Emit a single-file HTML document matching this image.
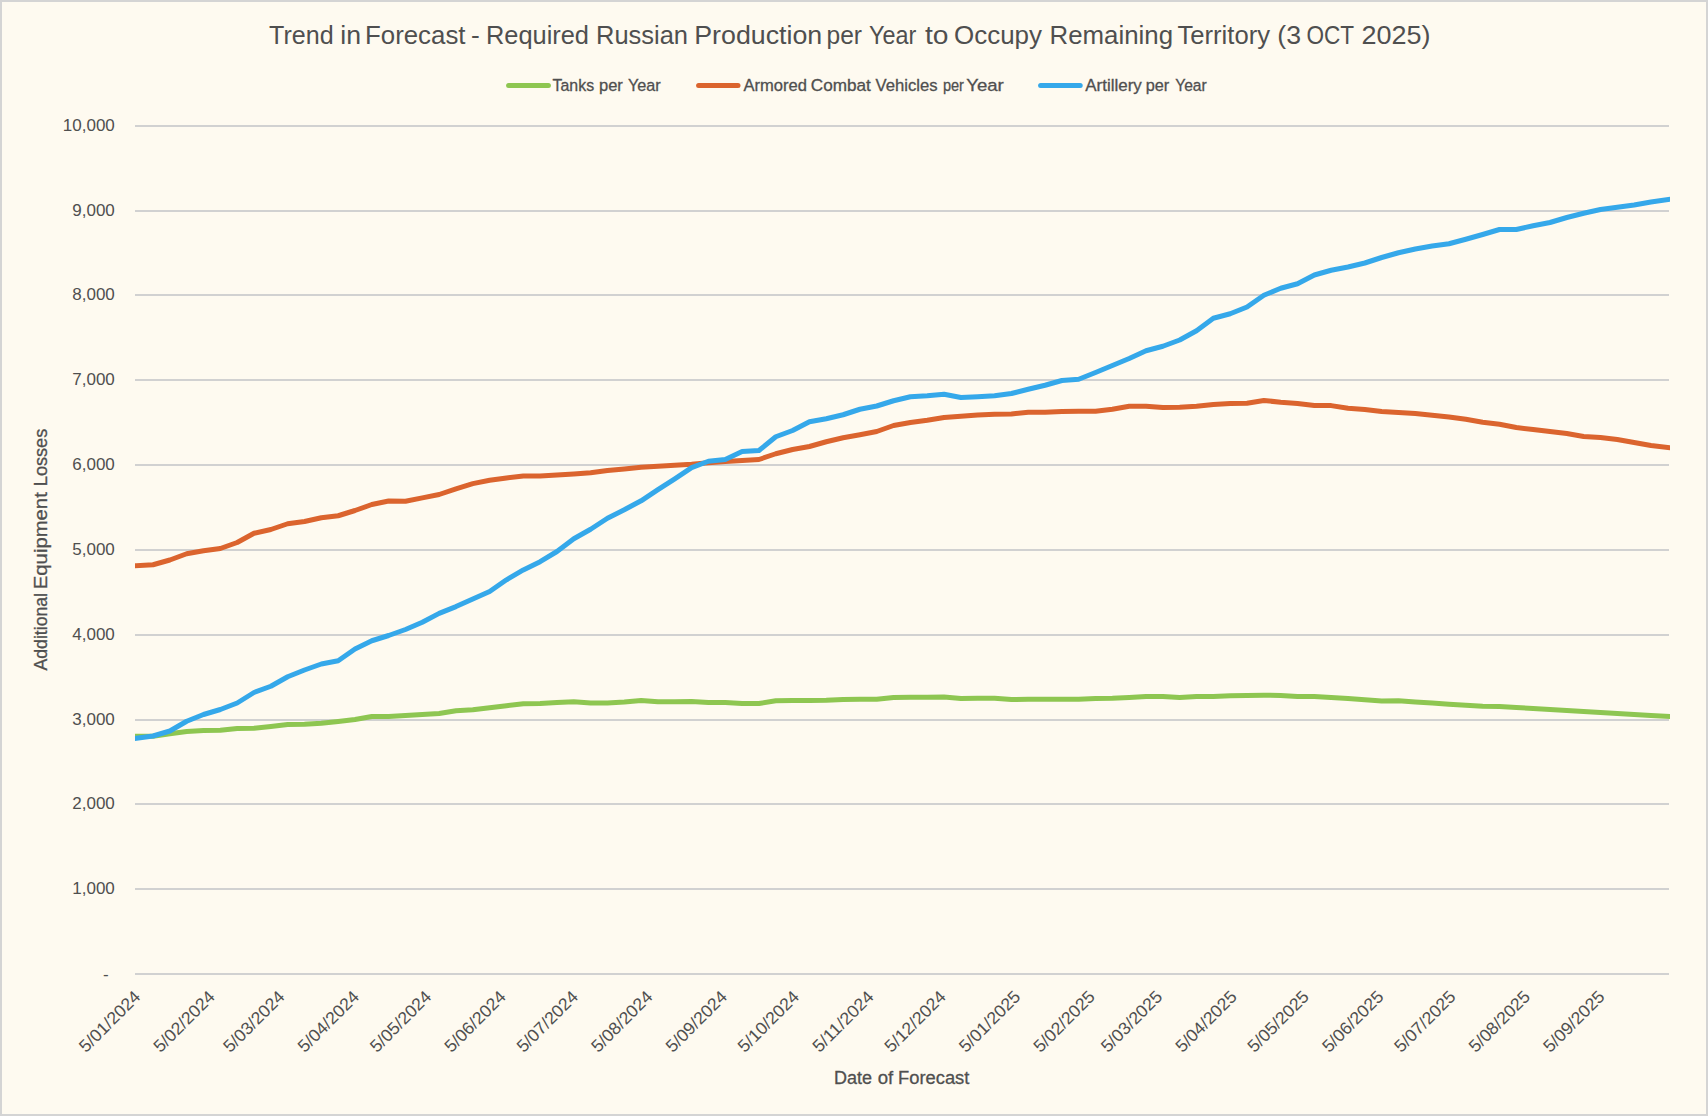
<!DOCTYPE html>
<html lang="en">
<head>
<meta charset="utf-8">
<title>Trend in Forecast - Required Russian Production per Year to Occupy Remaining Territory</title>
<style>
html,body{margin:0;padding:0;background:#fefaf0;}
body{width:1708px;height:1116px;overflow:hidden;position:relative;font-family:"Liberation Sans",sans-serif;}
#chart{position:absolute;left:0;top:0;width:1708px;height:1116px;box-sizing:border-box;border:2px solid #d4d4d4;background:#fefaf0;}
svg{position:absolute;left:0;top:0;display:block;}
text{font-family:"Liberation Sans",sans-serif;fill:#4f4f4f;}
.tick{font-size:17px;}
.xtick{font-size:17.3px;}
.title{font-size:26.4px;}
.leg{font-size:16.3px;stroke:#4f4f4f;stroke-width:0.3px;}
.axt{font-size:18.7px;stroke:#4f4f4f;stroke-width:0.3px;}
.ser{fill:none;stroke-width:5;stroke-linejoin:round;stroke-linecap:square;}
</style>
</head>
<body>
<div id="chart"></div>
<svg width="1708" height="1116" viewBox="0 0 1708 1116">
<defs><clipPath id="plot"><rect x="135" y="100" width="1535" height="900"/></clipPath></defs>
<g id="grid">
<rect x="135" y="973.00" width="1534" height="2" fill="#d1d1d1"/>
<rect x="135" y="888.00" width="1534" height="2" fill="#d1d1d1"/>
<rect x="135" y="803.00" width="1534" height="2" fill="#d1d1d1"/>
<rect x="135" y="719.00" width="1534" height="2" fill="#d1d1d1"/>
<rect x="135" y="634.00" width="1534" height="2" fill="#d1d1d1"/>
<rect x="135" y="549.00" width="1534" height="2" fill="#d1d1d1"/>
<rect x="135" y="464.00" width="1534" height="2" fill="#d1d1d1"/>
<rect x="135" y="379.00" width="1534" height="2" fill="#d1d1d1"/>
<rect x="135" y="294.00" width="1534" height="2" fill="#d1d1d1"/>
<rect x="135" y="210.00" width="1534" height="2" fill="#d1d1d1"/>
<rect x="135" y="125.00" width="1534" height="2" fill="#d1d1d1"/>
</g>
<g id="ylabels">
<text x="108.7" y="980.00" text-anchor="end" class="tick">-</text>
<text x="114.8" y="894.10" text-anchor="end" class="tick">1,000</text>
<text x="114.8" y="809.10" text-anchor="end" class="tick">2,000</text>
<text x="114.8" y="725.10" text-anchor="end" class="tick">3,000</text>
<text x="114.8" y="640.10" text-anchor="end" class="tick">4,000</text>
<text x="114.8" y="555.10" text-anchor="end" class="tick">5,000</text>
<text x="114.8" y="470.10" text-anchor="end" class="tick">6,000</text>
<text x="114.8" y="385.10" text-anchor="end" class="tick">7,000</text>
<text x="114.8" y="300.10" text-anchor="end" class="tick">8,000</text>
<text x="114.8" y="216.10" text-anchor="end" class="tick">9,000</text>
<text x="114.8" y="131.10" text-anchor="end" class="tick">10,000</text>
</g>
<g id="xlabels">
<text transform="translate(141.50,997.9) rotate(-45)" text-anchor="end" class="xtick" textLength="78.4" lengthAdjust="spacingAndGlyphs">5/01/2024</text>
<text transform="translate(216.04,997.9) rotate(-45)" text-anchor="end" class="xtick" textLength="78.4" lengthAdjust="spacingAndGlyphs">5/02/2024</text>
<text transform="translate(285.76,997.9) rotate(-45)" text-anchor="end" class="xtick" textLength="78.4" lengthAdjust="spacingAndGlyphs">5/03/2024</text>
<text transform="translate(360.30,997.9) rotate(-45)" text-anchor="end" class="xtick" textLength="78.4" lengthAdjust="spacingAndGlyphs">5/04/2024</text>
<text transform="translate(432.43,997.9) rotate(-45)" text-anchor="end" class="xtick" textLength="78.4" lengthAdjust="spacingAndGlyphs">5/05/2024</text>
<text transform="translate(506.97,997.9) rotate(-45)" text-anchor="end" class="xtick" textLength="78.4" lengthAdjust="spacingAndGlyphs">5/06/2024</text>
<text transform="translate(579.10,997.9) rotate(-45)" text-anchor="end" class="xtick" textLength="78.4" lengthAdjust="spacingAndGlyphs">5/07/2024</text>
<text transform="translate(653.63,997.9) rotate(-45)" text-anchor="end" class="xtick" textLength="78.4" lengthAdjust="spacingAndGlyphs">5/08/2024</text>
<text transform="translate(728.17,997.9) rotate(-45)" text-anchor="end" class="xtick" textLength="78.4" lengthAdjust="spacingAndGlyphs">5/09/2024</text>
<text transform="translate(800.30,997.9) rotate(-45)" text-anchor="end" class="xtick" textLength="78.4" lengthAdjust="spacingAndGlyphs">5/10/2024</text>
<text transform="translate(874.84,997.9) rotate(-45)" text-anchor="end" class="xtick" textLength="78.4" lengthAdjust="spacingAndGlyphs">5/11/2024</text>
<text transform="translate(946.97,997.9) rotate(-45)" text-anchor="end" class="xtick" textLength="78.4" lengthAdjust="spacingAndGlyphs">5/12/2024</text>
<text transform="translate(1021.51,997.9) rotate(-45)" text-anchor="end" class="xtick" textLength="78.4" lengthAdjust="spacingAndGlyphs">5/01/2025</text>
<text transform="translate(1096.04,997.9) rotate(-45)" text-anchor="end" class="xtick" textLength="78.4" lengthAdjust="spacingAndGlyphs">5/02/2025</text>
<text transform="translate(1163.36,997.9) rotate(-45)" text-anchor="end" class="xtick" textLength="78.4" lengthAdjust="spacingAndGlyphs">5/03/2025</text>
<text transform="translate(1237.90,997.9) rotate(-45)" text-anchor="end" class="xtick" textLength="78.4" lengthAdjust="spacingAndGlyphs">5/04/2025</text>
<text transform="translate(1310.03,997.9) rotate(-45)" text-anchor="end" class="xtick" textLength="78.4" lengthAdjust="spacingAndGlyphs">5/05/2025</text>
<text transform="translate(1384.57,997.9) rotate(-45)" text-anchor="end" class="xtick" textLength="78.4" lengthAdjust="spacingAndGlyphs">5/06/2025</text>
<text transform="translate(1456.70,997.9) rotate(-45)" text-anchor="end" class="xtick" textLength="78.4" lengthAdjust="spacingAndGlyphs">5/07/2025</text>
<text transform="translate(1531.23,997.9) rotate(-45)" text-anchor="end" class="xtick" textLength="78.4" lengthAdjust="spacingAndGlyphs">5/08/2025</text>
<text transform="translate(1605.77,997.9) rotate(-45)" text-anchor="end" class="xtick" textLength="78.4" lengthAdjust="spacingAndGlyphs">5/09/2025</text>
</g>
<g clip-path="url(#plot)">
<polyline class="ser" stroke="#8ec651" points="136.20,736.25 153.03,736.25 169.86,733.75 186.69,731.50 203.52,730.50 220.35,730.25 237.18,728.50 254.01,728.25 270.85,726.50 287.68,724.50 304.51,724.25 321.34,723.25 338.17,721.50 355.00,719.50 371.83,716.50 388.66,716.50 405.49,715.50 422.32,714.50 439.15,713.50 455.98,710.75 472.81,709.75 489.64,707.75 506.48,705.75 523.31,703.75 540.14,703.60 556.97,702.60 573.80,701.75 590.63,703.00 607.46,703.00 624.29,702.00 641.12,700.50 657.95,701.75 674.78,701.75 691.61,701.50 708.44,702.50 725.27,702.50 742.11,703.50 758.94,703.50 775.77,700.75 792.60,700.50 809.43,700.50 826.26,700.25 843.09,699.50 859.92,699.25 876.75,699.25 893.58,697.50 910.41,697.25 927.24,697.25 944.07,697.10 960.90,698.40 977.73,698.25 994.57,698.25 1011.40,699.50 1028.23,699.25 1045.06,699.25 1061.89,699.25 1078.72,699.25 1095.55,698.50 1112.38,698.25 1129.21,697.50 1146.04,696.50 1162.87,696.50 1179.70,697.50 1196.53,696.50 1213.36,696.50 1230.20,695.75 1247.03,695.50 1263.86,695.25 1280.69,695.50 1297.52,696.60 1314.35,696.50 1331.18,697.60 1348.01,698.60 1364.84,699.75 1381.67,701.00 1398.50,700.75 1415.33,702.00 1432.16,703.00 1448.99,704.25 1465.83,705.25 1482.66,706.25 1499.49,706.50 1516.32,707.49 1533.15,708.48 1549.98,709.47 1566.81,710.46 1583.64,711.45 1600.47,712.44 1617.30,713.43 1634.13,714.42 1650.96,715.41 1667.79,716.40"/>
<polyline class="ser" stroke="#db642e" points="136.20,565.75 153.03,564.75 169.86,560.00 186.69,553.75 203.52,550.75 220.35,548.50 237.18,542.50 254.01,533.25 270.85,529.50 287.68,523.75 304.51,521.50 321.34,517.75 338.17,515.75 355.00,510.50 371.83,504.50 388.66,501.00 405.49,501.30 422.32,497.90 439.15,494.50 455.98,488.80 472.81,483.60 489.64,480.20 506.48,477.90 523.31,476.00 540.14,476.10 556.97,474.90 573.80,473.90 590.63,472.80 607.46,470.60 624.29,468.90 641.12,467.15 657.95,466.15 674.78,465.15 691.61,464.15 708.44,462.75 725.27,461.50 742.11,460.50 758.94,459.50 775.77,453.75 792.60,449.50 809.43,446.50 826.26,441.75 843.09,437.75 859.92,434.75 876.75,431.50 893.58,425.50 910.41,422.50 927.24,420.25 944.07,417.50 960.90,416.25 977.73,415.00 994.57,414.25 1011.40,414.00 1028.23,412.25 1045.06,412.25 1061.89,411.50 1078.72,411.25 1095.55,411.25 1112.38,409.25 1129.21,406.25 1146.04,406.25 1162.87,407.50 1179.70,407.25 1196.53,406.25 1213.36,404.50 1230.20,403.50 1247.03,403.25 1263.86,400.50 1280.69,402.25 1297.52,403.40 1314.35,405.50 1331.18,405.60 1348.01,408.25 1364.84,409.40 1381.67,411.50 1398.50,412.50 1415.33,413.50 1432.16,415.25 1448.99,417.00 1465.83,419.25 1482.66,422.25 1499.49,424.25 1516.32,427.50 1533.15,429.50 1549.98,431.50 1566.81,433.50 1583.64,436.50 1600.47,437.50 1617.30,439.50 1634.13,442.50 1650.96,445.50 1667.79,447.50"/>
<polyline class="ser" stroke="#35a8ea" points="136.20,738.25 153.03,736.00 169.86,731.00 186.69,721.25 203.52,714.50 220.35,709.50 237.18,703.00 254.01,692.50 270.85,686.25 287.68,676.75 304.51,670.00 321.34,664.00 338.17,660.75 355.00,649.00 371.83,640.75 388.66,635.50 405.49,629.50 422.32,622.25 439.15,613.40 455.98,606.60 472.81,598.90 489.64,591.50 506.48,579.80 523.31,569.90 540.14,561.70 556.97,551.50 573.80,538.75 590.63,529.25 607.46,518.25 624.29,509.80 641.12,500.80 657.95,489.55 674.78,478.80 691.61,467.55 708.44,461.25 725.27,459.50 742.11,451.50 758.94,450.50 775.77,436.75 792.60,430.50 809.43,421.75 826.26,418.75 843.09,414.75 859.92,409.25 876.75,406.00 893.58,400.75 910.41,396.75 927.24,395.75 944.07,394.25 960.90,397.50 977.73,396.75 994.57,395.75 1011.40,393.50 1028.23,389.25 1045.06,385.25 1061.89,380.50 1078.72,379.25 1095.55,372.50 1112.38,365.50 1129.21,358.50 1146.04,350.75 1162.87,346.25 1179.70,340.00 1196.53,330.75 1213.36,318.25 1230.20,313.75 1247.03,307.00 1263.86,295.25 1280.69,288.25 1297.52,283.75 1314.35,275.00 1331.18,270.25 1348.01,267.00 1364.84,263.00 1381.67,257.50 1398.50,252.75 1415.33,249.00 1432.16,246.00 1448.99,243.75 1465.83,239.25 1482.66,234.50 1499.49,229.50 1516.32,229.50 1533.15,225.75 1549.98,222.50 1566.81,217.50 1583.64,213.25 1600.47,209.50 1617.30,207.25 1634.13,205.00 1650.96,202.00 1667.79,199.50"/>
</g>
<text class="title" y="44"><tspan x="269.10" textLength="64.50" lengthAdjust="spacingAndGlyphs">Trend</tspan> <tspan x="340.25" textLength="20.75" lengthAdjust="spacingAndGlyphs">in</tspan> <tspan x="365.00" textLength="100.50" lengthAdjust="spacingAndGlyphs">Forecast</tspan> <tspan x="471.00" textLength="8.75" lengthAdjust="spacingAndGlyphs">-</tspan> <tspan x="486.00" textLength="103.00" lengthAdjust="spacingAndGlyphs">Required</tspan> <tspan x="596.00" textLength="92.00" lengthAdjust="spacingAndGlyphs">Russian</tspan> <tspan x="694.25" textLength="128.00" lengthAdjust="spacingAndGlyphs">Production</tspan> <tspan x="826.50" textLength="35.50" lengthAdjust="spacingAndGlyphs">per</tspan> <tspan x="869.00" textLength="47.25" lengthAdjust="spacingAndGlyphs">Year</tspan> <tspan x="925.00" textLength="23.50" lengthAdjust="spacingAndGlyphs">to</tspan> <tspan x="954.00" textLength="88.00" lengthAdjust="spacingAndGlyphs">Occupy</tspan> <tspan x="1049.50" textLength="123.50" lengthAdjust="spacingAndGlyphs">Remaining</tspan> <tspan x="1177.50" textLength="92.50" lengthAdjust="spacingAndGlyphs">Territory</tspan> <tspan x="1277.25" textLength="23.75" lengthAdjust="spacingAndGlyphs">(3</tspan> <tspan x="1306.50" textLength="47.25" lengthAdjust="spacingAndGlyphs">OCT</tspan> <tspan x="1361.50" textLength="69.00" lengthAdjust="spacingAndGlyphs">2025)</tspan></text>
<g id="legend">
<line x1="508.6" y1="85.5" x2="548.4" y2="85.5" stroke="#8ec651" stroke-width="5" stroke-linecap="round"/>
<text class="leg" y="90.9"><tspan x="552.55" textLength="41.55" lengthAdjust="spacingAndGlyphs">Tanks</tspan> <tspan x="599.03" textLength="23.85" lengthAdjust="spacingAndGlyphs">per</tspan> <tspan x="627.90" textLength="32.75" lengthAdjust="spacingAndGlyphs">Year</tspan></text>
<line x1="698.6" y1="85.5" x2="738" y2="85.5" stroke="#db642e" stroke-width="5" stroke-linecap="round"/>
<text class="leg" y="90.9"><tspan x="743.40" textLength="63.50" lengthAdjust="spacingAndGlyphs">Armored</tspan> <tspan x="810.80" textLength="60.00" lengthAdjust="spacingAndGlyphs">Combat</tspan> <tspan x="875.50" textLength="62.00" lengthAdjust="spacingAndGlyphs">Vehicles</tspan> <tspan x="942.90" textLength="21.00" lengthAdjust="spacingAndGlyphs">per</tspan> <tspan x="966.30" textLength="37.50" lengthAdjust="spacingAndGlyphs">Year</tspan></text>
<line x1="1040.6" y1="85.5" x2="1080.2" y2="85.5" stroke="#35a8ea" stroke-width="5" stroke-linecap="round"/>
<text class="leg" y="90.9"><tspan x="1085.30" textLength="56.50" lengthAdjust="spacingAndGlyphs">Artillery</tspan> <tspan x="1145.80" textLength="23.50" lengthAdjust="spacingAndGlyphs">per</tspan> <tspan x="1175.20" textLength="31.50" lengthAdjust="spacingAndGlyphs">Year</tspan></text>
</g>
<text class="axt" transform="translate(46.9,670.5) rotate(-90)" y="0"><tspan x="0.00" textLength="77.50" lengthAdjust="spacingAndGlyphs">Additional</tspan> <tspan x="81.30" textLength="97.00" lengthAdjust="spacingAndGlyphs">Equipment</tspan> <tspan x="184.30" textLength="57.50" lengthAdjust="spacingAndGlyphs">Losses</tspan></text>
<text class="axt" y="1083.8"><tspan x="834.10" textLength="38.00" lengthAdjust="spacingAndGlyphs">Date</tspan> <tspan x="877.70" textLength="15.50" lengthAdjust="spacingAndGlyphs">of</tspan> <tspan x="898.10" textLength="71.25" lengthAdjust="spacingAndGlyphs">Forecast</tspan></text>
</svg>
</body>
</html>
